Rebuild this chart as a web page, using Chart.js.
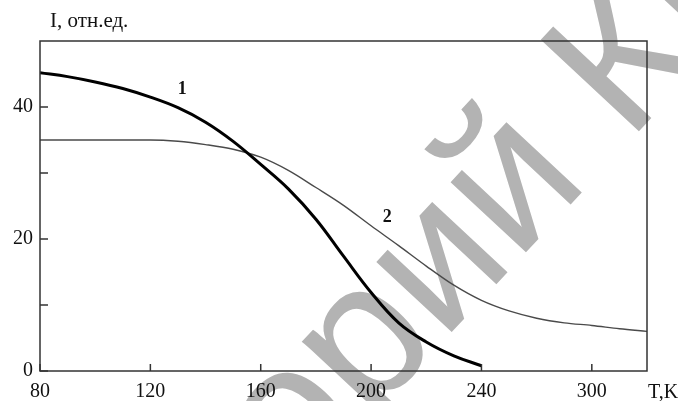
<!DOCTYPE html>
<html><head><meta charset="utf-8">
<script src="https://cdn.jsdelivr.net/npm/chart.js@4/dist/chart.umd.min.js"></script>
<style>html,body{margin:0;padding:0;background:#fff;overflow:hidden}#wrap{width:678px;height:401px;position:relative}</style>
</head><body><div id="wrap"><canvas id="c" width="678" height="401"></canvas></div>
<script>
// Curve 1 (thick)
const temps1 = [80, 90, 100, 110, 120, 130, 140, 150, 160, 170, 180, 190, 200, 210, 220, 230, 240];
const intensity1 = [45.2, 44.6, 43.8, 42.8, 41.5, 39.9, 37.7, 34.8, 31.3, 27.6, 23.0, 17.4, 11.9, 7.3, 4.4, 2.3, 0.8];
// Curve 2 (thin)
const temps2 = [80, 90, 100, 110, 120, 130, 140, 150, 160, 170, 180, 190, 200, 210, 220, 230, 240, 250, 260, 270, 280, 290, 300];
const intensity2 = [35.0, 35.0, 35.0, 35.0, 35.0, 34.8, 34.3, 33.6, 32.4, 30.4, 27.8, 25.1, 22.0, 19.0, 15.9, 13.0, 10.7, 9.1, 8.0, 7.3, 6.9, 6.4, 6.0];
// Axis ticks
const xTickValues = [80, 120, 160, 200, 240, 280];
const xTickLabels = ['80', '120', '160', '200', '240', '300'];
const yTickValues = [0, 10, 20, 30, 40];
const yTickLabels = ['0', '', '20', '', '40'];
// Curve annotations
const curveLabels = ['1', '2'];
const curveLabelT = [131.6, 205.9];
const curveLabelI = [42.6, 23.3];
const xAxisName = 'T,K';
const yAxisName = 'I, отн.ед.';
const watermarkBefore = 'Репозиторий ';
const watermarkAfter = 'КГУ';

const serif = '"Liberation Serif", "DejaVu Serif", serif';

const decor = {
  id: 'decor',
  beforeDraw(chart) {
    const ctx = chart.ctx;
    ctx.save();
    ctx.fillStyle = '#fff';
    ctx.fillRect(0, 0, chart.width, chart.height);
    ctx.fillStyle = '#b3b3b3';
    ctx.font = '195px "Liberation Sans", Arial, sans-serif';
    ctx.textBaseline = 'alphabetic';
    ctx.translate(628, 143);
    ctx.rotate(-47 * Math.PI / 180);
    ctx.fillText(watermarkAfter, 0, 0);
    const w = ctx.measureText(watermarkBefore).width;
    ctx.fillText(watermarkBefore, -w, 0);
    ctx.restore();
  },
  afterDraw(chart) {
    const ctx = chart.ctx;
    const a = chart.chartArea;
    const xs = chart.scales.x, ys = chart.scales.y;
    ctx.save();
    ctx.strokeStyle = '#333';
    ctx.lineWidth = 1.5;
    ctx.strokeRect(a.left, a.top, a.right - a.left, a.bottom - a.top);
    ctx.beginPath();
    xTickValues.forEach(v => {
      const px = xs.getPixelForValue(v);
      ctx.moveTo(px, a.bottom);
      ctx.lineTo(px, a.bottom - 7);
    });
    yTickValues.forEach(v => {
      const py = ys.getPixelForValue(v);
      ctx.moveTo(a.left, py);
      ctx.lineTo(a.left + 8, py);
    });
    ctx.stroke();
    ctx.fillStyle = '#111';
    ctx.font = '21px ' + serif;
    ctx.textBaseline = 'alphabetic';
    ctx.textAlign = 'left';
    ctx.fillText(yAxisName, 50, 27);
    ctx.font = '20px ' + serif;
    ctx.textBaseline = 'middle';
    ctx.fillText(xAxisName, a.right + 1, 393);
    ctx.font = 'bold 18px ' + serif;
    ctx.textAlign = 'center';
    curveLabels.forEach((t, i) => {
      ctx.fillText(t, xs.getPixelForValue(curveLabelT[i]), ys.getPixelForValue(curveLabelI[i]));
    });
    ctx.restore();
  }
};

new Chart(document.getElementById('c'), {
  type: 'line',
  data: {
    datasets: [
      {
        data: temps1.map((t, i) => ({x: t, y: intensity1[i]})),
        borderColor: '#000', borderWidth: 3, pointRadius: 0, fill: false,
        tension: 0.4
      },
      {
        data: temps2.map((t, i) => ({x: t, y: intensity2[i]})),
        borderColor: '#4a4a4a', borderWidth: 1.4, pointRadius: 0, fill: false,
        cubicInterpolationMode: 'monotone'
      }
    ]
  },
  options: {
    responsive: false, animation: false, devicePixelRatio: 1,
    layout: {padding: {top: 41, right: 31, left: 0, bottom: 0}},
    plugins: {legend: {display: false}, tooltip: {enabled: false}},
    scales: {
      x: {
        type: 'linear', min: 80, max: 300,
        afterBuildTicks: s => { s.ticks = xTickValues.map(v => ({value: v})); },
        afterFit: s => { s.height = 30; },
        grid: {display: false, drawTicks: false},
        border: {display: false},
        ticks: {
          autoSkip: false, maxRotation: 0, padding: 9, color: '#111',
          font: {family: serif, size: 20},
          callback: (v, i) => xTickLabels[i]
        }
      },
      y: {
        min: 0, max: 50,
        afterBuildTicks: s => { s.ticks = yTickValues.map(v => ({value: v})); },
        afterFit: s => { s.width = 40; },
        grid: {display: false, drawTicks: false},
        border: {display: false},
        ticks: {
          autoSkip: false, padding: 7, color: '#111',
          font: {family: serif, size: 20},
          callback: (v, i) => yTickLabels[i]
        }
      }
    }
  },
  plugins: [decor]
});
</script>
</body></html>
